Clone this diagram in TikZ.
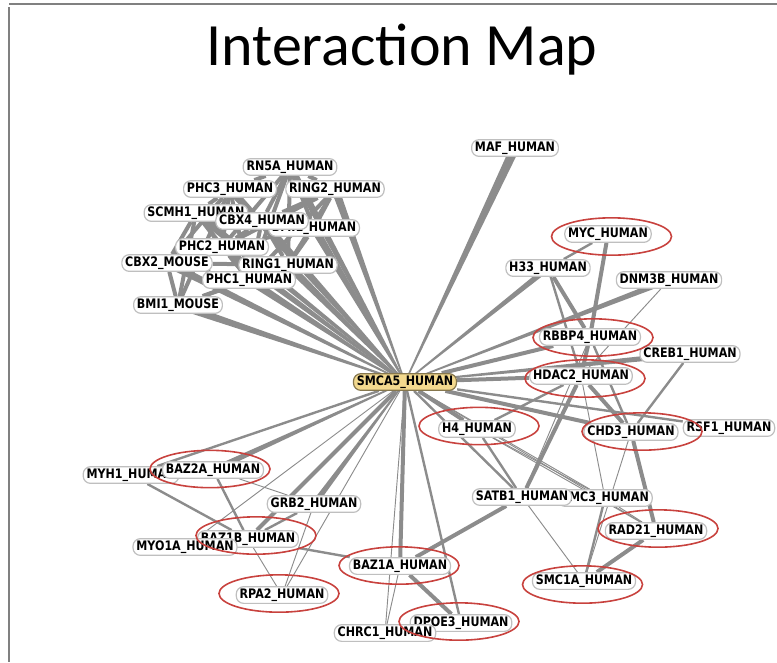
\documentclass[tikz,border=0pt]{standalone}
\usepackage{fontspec}
\setmainfont{Carlito}
\newfontfamily\protfam{DejaVu Sans}[FakeStretch=0.85]
\usetikzlibrary{backgrounds, calc}

\definecolor{edgegray}{HTML}{8C8C8C}
\definecolor{hired}{HTML}{C8423E}
\definecolor{hubfill}{HTML}{F3D98E}

\tikzset{
  prot/.style={draw=gray!50, line width=0.9pt, fill=white, rounded corners=5.5pt,
    inner xsep=2.5pt, inner ysep=1.2pt, minimum height=12.5pt,
    font=\protfam\bfseries\fontsize{9.8}{10}\selectfont},
  hub/.style={prot, fill=hubfill, draw=hubfill!55!black},
  ethin/.style={draw=edgegray, line width=0.7pt},
  emid/.style={draw=edgegray, line width=1.8pt},
  ethick/.style={draw=edgegray, line width=3pt},
  hilite/.style={draw=hired, line width=1.2pt}
}
% tapered interaction: narrow at #1, half width #3 at #2
\newcommand{\taper}[3]{%
  \fill[edgegray] ($(#1)!0.5pt!90:(#2)$) -- ($(#2)!#3!-90:(#1)$)
    -- ($(#2)!#3!90:(#1)$) -- ($(#1)!0.5pt!-90:(#2)$) -- cycle;}

\begin{document}
\begin{tikzpicture}[x=0.75pt, y=-0.75pt]
    \useasboundingbox (0,0) rectangle (777,662);

    % Frame and title
    \draw[gray, line width=1.5pt] (9,4) -- (777,4);
    \draw[gray, line width=1.5pt] (9,7) -- (9,662);
    \node (title) at (402,65) [anchor=base, font=\fontsize{45}{50}\selectfont] {Interaction Map};

    % Polycomb cluster
    \node (rn5a) at (290,167) [prot] {RN5A\_HUMAN};
    \node (phc3) at (230,189) [prot] {PHC3\_HUMAN};
    \node (ring2) at (335,189) [prot] {RING2\_HUMAN};
    \node (scmh1) at (196,213) [prot] {SCMH1\_HUMAN};
    \node (bmi1h) at (314,228) [prot] {BMI1\_HUMAN};
    \node (cbx4) at (262,221) [prot] {CBX4\_HUMAN};
    \node (phc2) at (222,247) [prot] {PHC2\_HUMAN};
    \node (cbx2) at (167,263) [prot] {CBX2\_MOUSE};
    \node (ring1) at (288,265) [prot] {RING1\_HUMAN};
    \node (phc1) at (249,280) [prot] {PHC1\_HUMAN};
    \node (bmi1m) at (178,305) [prot] {BMI1\_MOUSE};

    % Right side
    \node (maf) at (515,148) [prot] {MAF\_HUMAN};
    \node (myc) at (608,234) [prot] {MYC\_HUMAN};
    \node (h33) at (548,268) [prot] {H33\_HUMAN};
    \node (dnm3b) at (669,280) [prot] {DNM3B\_HUMAN};
    \node (rbbp4) at (590,337) [prot] {RBBP4\_HUMAN};
    \node (creb1) at (690,354) [prot] {CREB1\_HUMAN};
    \node (hdac2) at (581,376) [prot] {HDAC2\_HUMAN};
    \node (h4) at (477,429) [prot] {H4\_HUMAN};
    \node (chd3) at (631,432) [prot] {CHD3\_HUMAN};
    \node (rsf1) at (729,428) [prot] {RSF1\_HUMAN};
    \node (smc3) at (605,498) [prot] {SMC3\_HUMAN};
    \node (satb1) at (522,497) [prot] {SATB1\_HUMAN};
    \node (rad21) at (656,531) [prot] {RAD21\_HUMAN};
    \node (smc1a) at (584,581) [prot] {SMC1A\_HUMAN};

    % Lower left
    \node (myh1) at (131,475) [prot] {MYH1\_HUMAN};
    \node (baz2a) at (213,470) [prot] {BAZ2A\_HUMAN};
    \node (grb2) at (314,504) [prot] {GRB2\_HUMAN};
    \node (baz1b) at (248,539) [prot] {BAZ1B\_HUMAN};
    \node (myo1a) at (185,547) [prot] {MYO1A\_HUMAN};
    \node (rpa2) at (282,595) [prot] {RPA2\_HUMAN};
    \node (baz1a) at (400,566) [prot] {BAZ1A\_HUMAN};
    \node (dpoe3) at (461,623) [prot] {DPOE3\_HUMAN};
    \node (chrc1) at (385,633) [prot] {CHRC1\_HUMAN};

    % Hub
    \node (smca5) at (405,382) [hub] {SMCA5\_HUMAN};

    % Interactions
    \begin{pgfonlayer}{background}
    \foreach \b in {rn5a,phc3,ring2,cbx4,bmi1h,phc2,ring1,phc1,bmi1m,scmh1,cbx2}
        \taper{smca5}{\b}{3pt};
    \taper{smca5}{maf}{3.5pt}
    \foreach \b in {h33,dnm3b,creb1,baz2a,grb2}
        \taper{smca5}{\b}{2.2pt};
    \foreach \b in {rbbp4,hdac2,h4,chd3,baz1b,baz1a}
        \draw[ethick] (smca5) -- (\b);
    \foreach \b in {satb1,dpoe3,myh1,rsf1}
        \draw[emid] (smca5) -- (\b);
    \foreach \b in {chrc1,rpa2,myo1a,smc3,rad21}
        \draw[ethin] (smca5) -- (\b);
    \foreach \a/\b in {rn5a/phc3,rn5a/ring2,rn5a/cbx4,rn5a/phc2,rn5a/ring1,rn5a/bmi1h,
        rn5a/phc1,phc3/scmh1,phc3/cbx2,phc3/phc2,phc3/bmi1m,phc3/phc1,ring2/cbx4,
        ring2/ring1,ring2/phc1,ring2/phc2,ring2/bmi1h,scmh1/phc2,scmh1/cbx2,
        scmh1/bmi1m,scmh1/phc1,cbx4/phc2,cbx4/ring1,cbx4/phc1,bmi1h/ring1,
        bmi1h/phc2,phc2/ring1,phc2/phc1,cbx2/phc1,cbx2/bmi1m,cbx2/ring1,
        phc1/bmi1m,ring1/bmi1m,phc1/ring1}
        \draw[ethick] (\a) -- (\b);
    \foreach \a/\b in {myc/rbbp4,h33/rbbp4,rbbp4/hdac2,hdac2/chd3,hdac2/satb1,
        chd3/rad21,rad21/smc1a,satb1/baz1a,baz1a/dpoe3}
        \draw[ethick] (\a) -- (\b);
    \foreach \a/\b in {myc/h33,h33/hdac2,rbbp4/chd3,creb1/chd3,hdac2/h4,h4/satb1,
        smc3/smc1a,baz1b/baz1a,baz2a/baz1b,myh1/baz1b,baz1b/grb2}
        \draw[emid] (\a) -- (\b);
    \foreach \a/\b in {myc/hdac2,dnm3b/hdac2,rbbp4/satb1,hdac2/smc3,chd3/smc1a,
        smc3/rad21,satb1/smc1a,h4/smc3,h4/rad21,baz1a/chrc1,baz1b/rpa2,grb2/rpa2,
        baz2a/grb2}
        \draw[ethin] (\a) -- (\b);
    \end{pgfonlayer}

    % Highlighted proteins
    \foreach \n/\dx/\dy in {myc/3.5/2.5,rbbp4/3/0.5,hdac2/4/2.5,h4/2/-3,chd3/11/-0.5,
        rad21/2/-2.5,smc1a/-1.5/3.5,baz1a/-1/-0.5,dpoe3/-2/-1.5,rpa2/-3/-1.5,
        baz1b/8/-3.5,baz2a/-3/-1}
        \draw[hilite] (\n) ++(\dx,\dy) ellipse [x radius=45pt, y radius=14pt];
\end{tikzpicture}
\end{document}
